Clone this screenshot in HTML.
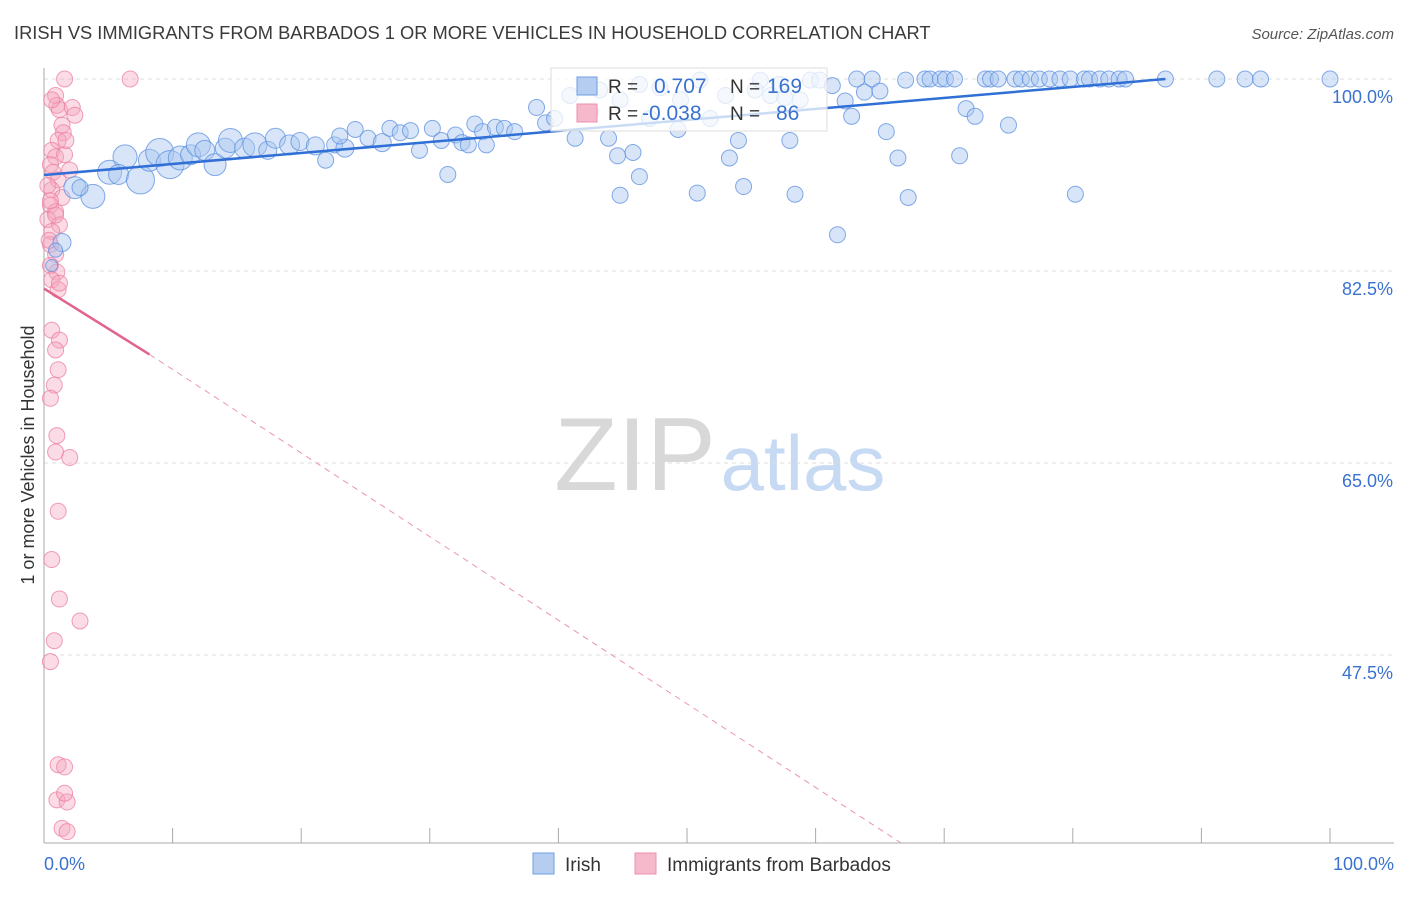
<!DOCTYPE html>
<html><head><meta charset="utf-8"><style>
body{margin:0;background:#fff;font-family:"Liberation Sans",sans-serif;}
svg text{font-family:"Liberation Sans",sans-serif;}
</style></head><body>
<svg id="chart" width="1406" height="892" xmlns="http://www.w3.org/2000/svg">
<text x="14" y="39" font-size="18.3" fill="#3a3a3a">IRISH VS IMMIGRANTS FROM BARBADOS 1 OR MORE VEHICLES IN HOUSEHOLD CORRELATION CHART</text>
<text x="1394" y="39" font-size="15" fill="#555" text-anchor="end" font-style="italic">Source: ZipAtlas.com</text>
<g>
<text x="635" y="490" font-size="104" fill="#d8d8d8" font-family="Liberation Serif" text-anchor="middle">ZIP</text>
<text x="803" y="490" font-size="78" fill="#c7daf3" text-anchor="middle">atlas</text>
</g>
<g id="grid"></g><g id="axes"></g><g id="pink"></g><g id="blue"></g><g id="lines"></g>
<g>
<rect x="551" y="68" width="276" height="63" fill="#fff" fill-opacity="0.75" stroke="#ddd"/>
<rect x="577" y="77" width="20" height="18" fill="#b4cdf0" stroke="#6f9ee0"/>
<rect x="577" y="104" width="20" height="18" fill="#f6b9cb" stroke="#ec8fab"/>
<text x="608" y="93" font-size="19" fill="#333">R =</text><text x="654" y="93" font-size="21" fill="#3a72d0">0.707</text>
<text x="730" y="93" font-size="19" fill="#333">N =</text><text x="767" y="93" font-size="21" fill="#3a72d0">169</text>
<text x="608" y="120" font-size="19" fill="#333">R =</text><text x="642" y="120" font-size="21" fill="#3a72d0">-0.038</text>
<text x="730" y="120" font-size="19" fill="#333">N =</text><text x="776" y="120" font-size="21" fill="#3a72d0">86</text>
</g>
<g>
<rect x="533" y="853" width="21" height="21" fill="#b4cdf0" stroke="#6f9ee0"/>
<text x="565" y="871" font-size="19" fill="#333">Irish</text>
<rect x="635" y="853" width="21" height="21" fill="#f6b9cb" stroke="#ec8fab"/>
<text x="667" y="871" font-size="19" fill="#333">Immigrants from Barbados</text>
</g>
<text transform="translate(34,455) rotate(-90)" font-size="18" fill="#333" text-anchor="middle">1 or more Vehicles in Household</text>
<text x="44" y="870" font-size="18" fill="#3a72d0">0.0%</text>
<text x="1394" y="870" font-size="18" fill="#3a72d0" text-anchor="end">100.0%</text>
</svg>
<script>
const yTicks=[100,82.5,65,47.5];
const yTickLabels=["100.0%","82.5%","65.0%","47.5%"];
const xTicks=[0,10,20,30,40,50,60,70,80,90,100];
const blueX=[1.4,0.9,0.6,2.4,3.8,2.8,5.1,6.3,5.8,7.5,8.2,9.0,9.8,10.6,11.4,12.0,12.5,13.3,14.1,14.5,15.6,16.4,17.4,18.0,19.1,19.9,21.1,21.9,22.6,23.4,23.0,24.2,25.2,26.3,26.9,27.7,28.5,29.2,30.2,30.9,31.4,32.0,32.5,33.0,33.5,34.1,34.4,35.1,35.8,36.6,38.3,39.0,39.7,41.3,40.9,42.5,43.9,44.6,44.8,45.8,46.3,47.1,47.9,49.3,51.0,50.8,51.8,53.0,53.3,54.0,54.4,55.3,56.5,57.6,58.0,58.4,59.6,60.3,61.3,61.7,62.3,62.8,63.2,63.8,64.4,65.0,65.5,66.4,67.0,67.2,68.5,68.9,69.7,70.1,70.8,71.2,71.7,72.4,73.2,73.6,74.2,75.0,75.5,76.0,76.7,77.4,78.2,79.0,79.8,80.2,80.9,81.3,82.1,82.8,83.6,84.1,87.2,91.2,93.4,94.6,100,43.2,44.8,46.3,49.5,55.7,57.2,58.8];
const blueY=[85.1,84.4,83.0,90.1,89.3,90.1,91.5,92.9,91.3,90.8,92.6,93.3,92.2,92.8,93.1,94.0,93.5,92.2,93.7,94.4,93.7,94.0,93.5,94.6,94.0,94.3,93.9,92.6,94.0,93.7,94.8,95.4,94.6,94.2,95.5,95.1,95.3,93.5,95.5,94.4,91.3,94.9,94.2,94.0,95.9,95.2,94.0,95.6,95.5,95.2,97.4,96.0,96.4,94.6,98.5,97.0,94.6,93.0,89.4,93.3,91.1,96.4,99.2,95.4,99.9,89.6,96.4,98.5,92.8,94.4,90.2,99.0,98.5,98.3,94.4,89.5,99.9,99.9,99.4,85.8,98.0,96.6,100,98.8,100,98.9,95.2,92.8,99.9,89.2,100,100,100,100,100,93.0,97.3,96.6,100,100,100,95.8,100,100,100,100,100,100,100,89.5,100,100,100,100,100,100,100,100,100,100,100,99,98.1,99.5,98.1,99.9,99.5,98.1];
const blueSize=[9,7,6,11,12,8,12,12,10,14,11,14,14,12,10,12,10,11,10,12,10,12,9,10,10,9,9,8,8,9,8,8,8,9,8,8,8,8,8,8,8,8,8,8,8,8,8,8,8,8];
const pinkX=[1.6,6.7,0.9,1.0,1.2,2.2,2.4,1.4,1.5,1.1,0.6,0.9,1.6,0.5,0.7,1.1,0.6,1.4,0.5,0.9,0.3,1.2,0.6,0.5,0.9,0.5,1.0,0.6,1.1,0.6,1.2,0.9,1.1,0.8,0.5,1.0,0.9,2.0,1.1,0.6,1.2,2.8,0.8,0.5,1.1,1.6,1.0,1.8,1.6,1.4,1.8,0.6,0.3,0.9,0.4,1.2,0.5,1.7,2.0];
const pinkY=[100,100,98.5,97.6,97.2,97.4,96.7,95.8,95.1,94.4,93.5,92.9,93.1,92.2,91.5,90.8,89.9,89.2,88.5,87.9,87.2,86.7,86.1,84.9,84.0,83.0,82.4,81.7,80.8,77.1,76.2,75.3,73.5,72.1,70.9,67.5,66.0,65.5,60.6,56.2,52.6,50.6,48.8,46.9,37.5,37.3,34.3,34.1,34.9,31.7,31.4,98.1,90.3,87.6,85.3,81.4,88.9,94.4,91.7];
const blueLine=[[0,91.25],[87.2,100]];
const pinkLine=[[0,80.9],[8.2,74.9],[66.6,30.4]];
const NS="http://www.w3.org/2000/svg";
const X0=44,X1=1330,Y100=79,PXPER=192/17.5;
const sx=v=>X0+(X1-X0)*v/100;
const sy=v=>Y100+(100-v)*PXPER;
function mk(t,a,p){const e=document.createElementNS(NS,t);for(const k in a)e.setAttribute(k,a[k]);document.getElementById(p).appendChild(e);return e;}
yTicks.forEach((v,i)=>{
 const g=mk('line',{x1:44,x2:1394,y1:sy(v),y2:sy(v),stroke:'#ddd','stroke-dasharray':'4,4'},'grid');
 
 
 const t=mk('text',{x:1393,y:sy(v)+24,'font-size':18,fill:'#3a72d0','text-anchor':'end'},'grid');
 t.textContent=yTickLabels[i];
 
 
});
const ya=mk('line',{x1:44,x2:44,y1:68,y2:843,stroke:'#aaa'},'axes');


const xa=mk('line',{x1:44,x2:1394,y1:843,y2:843,stroke:'#aaa'},'axes');


xTicks.forEach(v=>{
 const t=mk('line',{x1:sx(v),x2:sx(v),y1:828,y2:843,stroke:'#aaa'},'axes');
 
 
});
pinkX.forEach((x,i)=>{
 const c=mk('circle',{cx:sx(x),cy:sy(pinkY[i]),r:8,fill:'#f4a6bf','fill-opacity':0.4,stroke:'#ec7fa2','stroke-opacity':0.75},'pink');
 
 
});
blueX.forEach((x,i)=>{
 const c=mk('circle',{cx:sx(x),cy:sy(blueY[i]),r:blueSize[i]||8,fill:'#a9c6f0','fill-opacity':0.45,stroke:'#5b8fe0','stroke-opacity':0.75},'blue');
 
 
});
const bl=mk('line',{x1:sx(blueLine[0][0]),y1:sy(blueLine[0][1]),x2:sx(blueLine[1][0]),y2:sy(blueLine[1][1]),stroke:'#2f6fd6','stroke-width':2.5},'lines');


const pl=mk('line',{x1:sx(pinkLine[0][0]),y1:sy(pinkLine[0][1]),x2:sx(pinkLine[1][0]),y2:sy(pinkLine[1][1]),stroke:'#e2648d','stroke-width':2.5},'lines');


const pd=mk('line',{x1:sx(pinkLine[1][0]),y1:sy(pinkLine[1][1]),x2:sx(pinkLine[2][0]),y2:sy(pinkLine[2][1]),stroke:'#e995b0','stroke-width':1,'stroke-dasharray':'6,5'},'lines');


</script>
</body></html>
